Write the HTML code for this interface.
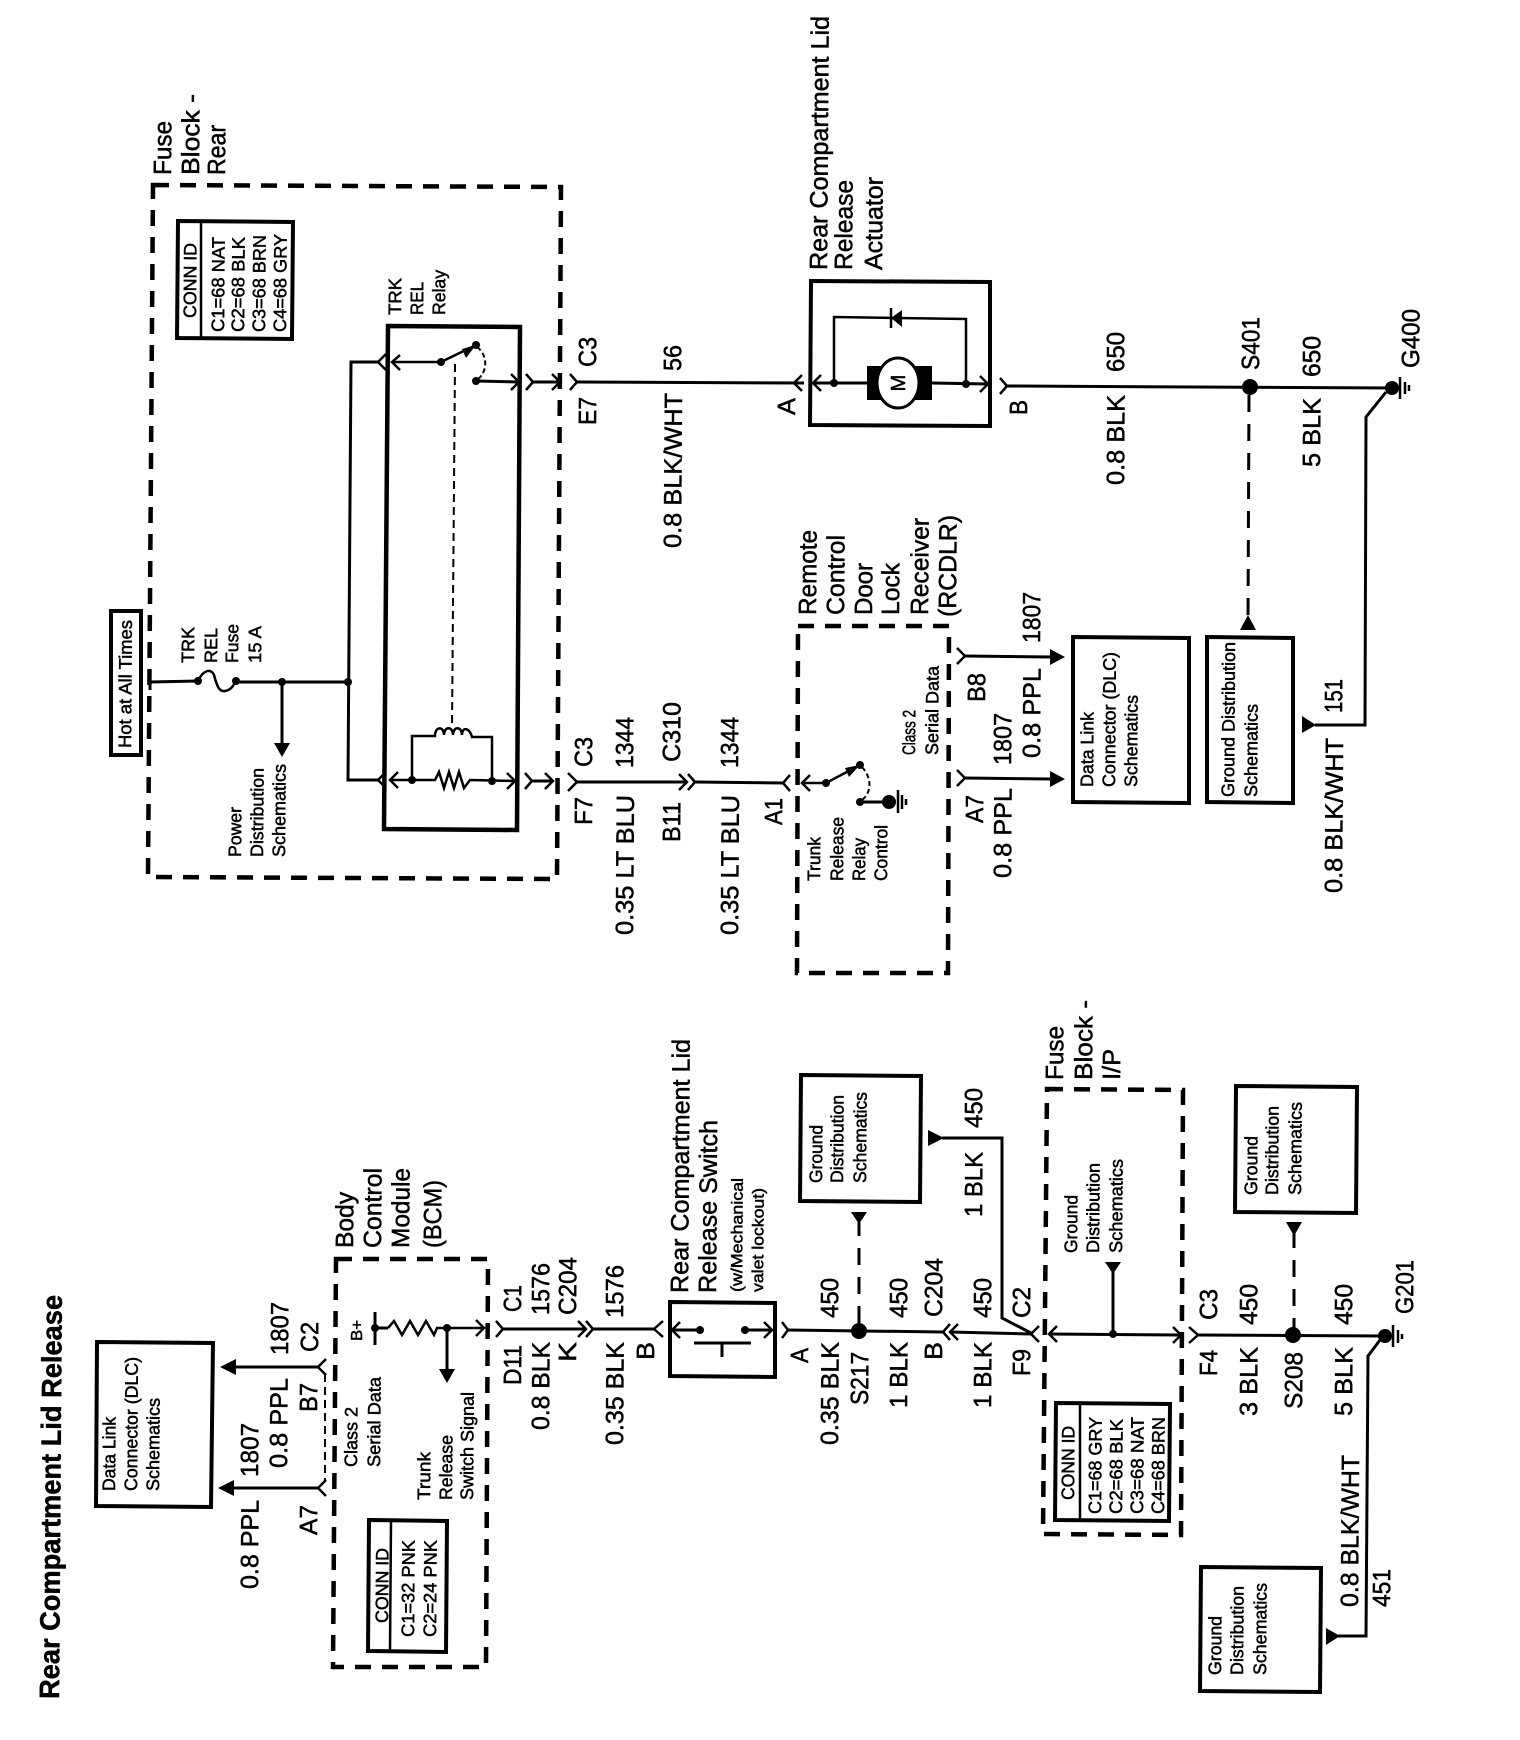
<!DOCTYPE html>
<html><head><meta charset="utf-8"><title>Rear Compartment Lid Release</title>
<style>
html,body{margin:0;padding:0;background:#fff}
svg{display:block}
text{font-family:"Liberation Sans",sans-serif;fill:#000;stroke:#000;stroke-width:.5}
.a text{font-size:25px}
.b text{font-size:18px}
.c text{font-size:16px}
.w{fill:none;stroke:#000;stroke-width:3}
.t{fill:none;stroke:#000;stroke-width:2.5}
.box{fill:none;stroke:#000;stroke-width:4}
.dash{fill:none;stroke:#000;stroke-width:4.5;stroke-dasharray:16 11}
.ld{fill:none;stroke:#000;stroke-width:3;stroke-dasharray:17 12}
.td{fill:none;stroke:#000;stroke-width:2;stroke-dasharray:8 5}
</style></head><body>
<svg xmlns="http://www.w3.org/2000/svg" width="1520" height="1740" viewBox="0 0 1520 1740">
<rect width="1520" height="1740" fill="#fff"/>

<!-- dashed enclosures -->
<path class="dash" d="M153 185L561 187L557 879L148 877Z"/>
<path class="dash" d="M798 626L949 626L948 973L797 973Z"/>
<path class="dash" d="M336 1259L488 1259L486 1667L333 1667Z"/>
<path class="dash" d="M1047 1089L1183 1090L1181 1535L1043 1534Z"/>

<!-- solid boxes -->
<rect class="box" x="111" y="611" width="30" height="144"/>
<path class="box" d="M178 221L293 222L292 339L177 338Z"/><path class="t" d="M201 222L201 338"/>
<path class="box" d="M388 326L520 327L517 830L384 829Z" style="stroke-width:4.5"/>
<path class="box" d="M811 281L990 282L990 426L810 425Z"/>
<path class="box" d="M1073 637L1189 638L1189 803L1073 802Z"/>
<path class="box" d="M1207 637L1293 638L1293 803L1207 802Z"/>
<path class="box" d="M97 1342L213 1343L211 1507L96 1506Z"/>
<path class="box" d="M369 1520L447 1521L446 1652L368 1651Z"/><path class="t" d="M391 1521L390 1651"/>
<path class="box" d="M670 1302L775 1303L775 1377L670 1376Z"/>
<path class="box" d="M801 1075L921 1076L920 1202L800 1201Z"/>
<path class="box" d="M1056 1403L1170 1404L1169 1521L1055 1520Z"/><path class="t" d="M1080 1404L1080 1520"/>
<path class="box" d="M1236 1086L1357 1087L1356 1213L1235 1212Z"/>
<path class="box" d="M1201 1567L1321 1568L1320 1692L1200 1691Z"/>

<!-- top relay circuit -->
<path class="w" d="M150 675L150 690M150 682L198 681"/>
<path class="t" d="M198 681C203 670 211 668 214 675C217 686 219 692 225 691C231 690 233 686 236 681"/>
<path class="w" d="M236 682L348 682"/>
<path class="w" d="M282 682L282 745"/>
<path d="M274 743L290 743L282 757Z"/>
<path class="w" d="M378 362L351 362L348 780L378 780"/>
<circle cx="348" cy="682" r="4"/><circle cx="282" cy="682" r="4"/><circle cx="198" cy="681" r="4"/><circle cx="236" cy="681" r="4"/>
<polyline class="t" points="386,354 378,362 386,370"/>
<polyline class="t" points="386,772 378,780 386,788"/>
<!-- relay internals -->
<path class="t" d="M392 362L441 362L476 345"/>
<polyline class="t" points="400,355 392,362 400,370"/>
<path d="M476 345L462 349L466 358Z"/>
<circle cx="441" cy="362" r="4"/><circle cx="476" cy="345" r="4"/><circle cx="476" cy="381" r="4"/>
<path class="td" d="M477 347C488 355 488 372 477 380" style="stroke-dasharray:5 3"/>
<path class="w" d="M476 381L519 382"/>
<polyline class="t" points="511,374 519,382 511,390"/>
<polyline class="t" points="526,374 533,382 526,390"/>
<path class="w" d="M533 382L560 382"/>
<polyline class="t" points="552,374 560,382 552,390"/>
<polyline class="t" points="570,374 577,382 570,390"/>
<path class="w" d="M577 382L804 383"/>
<polyline class="t" points="802,375 794,383 802,391"/>
<path class="td" d="M455 364L452 728"/>
<path class="t" d="M390 780L435 780L439 772L444 788L449 772L454 788L459 772L464 788L470 780L515 781"/>
<polyline class="t" points="398,772 390,780 398,788"/>
<polyline class="t" points="507,773 515,781 507,789"/>
<circle cx="412" cy="780" r="4"/><circle cx="492" cy="781" r="4"/>
<path class="t" d="M412 780L412 736L435 736C435 726 444 726 444 735C444 726 453 726 453 735C453 726 462 726 462 735C462 726 470 728 472 737L492 737L492 781"/>
<polyline class="t" points="525,773 532,781 525,789"/>
<path class="w" d="M532 781L553 781"/>
<polyline class="t" points="545,773 553,781 545,789"/>
<polyline class="t" points="568,773 577,782 568,791"/>
<path class="w" d="M577 782L687 782"/>
<polyline class="t" points="679,774 687,782 679,790"/>
<polyline class="t" points="688,774 695,782 688,790"/>
<path class="w" d="M695 782L783 783"/>
<polyline class="t" points="790,775 783,783 790,791"/>
<!-- RCDLR -->
<path class="t" d="M802 783L826 783L860 765"/>
<polyline class="t" points="810,775 802,783 810,791"/>
<path d="M860 765L845 768L849 777Z"/>
<circle cx="826" cy="783" r="4"/><circle cx="860" cy="765" r="4"/><circle cx="860" cy="802" r="4"/>
<path class="td" d="M862 767C872 778 872 792 862 800" style="stroke-dasharray:5 3"/>
<path class="w" d="M860 802L889 802"/><circle cx="889" cy="802" r="7"/>
<path class="t" d="M898 790L898 813M902 795L902 809M906 799L906 805"/>
<polyline class="t" points="957,648 965,656 957,664"/>
<path class="w" d="M965 656L1052 657"/><path d="M1050 649L1065 657L1050 665Z"/>
<polyline class="t" points="957,770 965,778 957,786"/>
<path class="w" d="M965 778L1052 779"/><path d="M1050 771L1065 779L1050 787Z"/>
<!-- actuator -->
<polyline class="t" points="821,375 813,383 821,391"/>
<path class="w" d="M813 383L868 383M932 383L988 384"/>
<polyline class="t" points="980,376 988,384 980,392"/>
<rect x="867" y="366" width="65" height="34"/>
<ellipse cx="898" cy="383" rx="21" ry="25" fill="#fff" stroke="#000" stroke-width="3"/>
<circle cx="834" cy="383" r="4"/><circle cx="966" cy="384" r="4"/>
<path class="t" d="M834 383L834 317L966 319L966 384"/>
<path class="t" d="M891 308L891 328"/><path d="M891 318L902 310L902 327Z"/>
<polyline class="t" points="1000,378 1007,386 1000,394"/>
<path class="w" d="M1007 386L1392 388"/>
<circle cx="1250" cy="387" r="8"/><circle cx="1392" cy="388" r="7"/>
<path class="t" d="M1400 377L1400 399M1405 382L1405 394M1409 385L1409 391"/>
<path class="ld" d="M1249 395L1248 618"/>
<path d="M1240 630L1256 630L1248 615Z"/>
<path d="M1302 716L1302 733L1316 725Z"/>
<path class="w" d="M1315 725L1365 725L1366 417L1386 392"/>

<!-- bottom left -->
<path d="M236 1359L236 1375L220 1367Z"/><path class="w" d="M235 1367L318 1367"/>
<polyline class="t" points="326,1359 318,1367 326,1375"/>
<path d="M234 1480L234 1496L218 1488Z"/><path class="w" d="M233 1488L318 1488"/>
<polyline class="t" points="326,1480 318,1488 326,1496"/>
<path class="td" d="M325 1374L325 1482"/>
<path class="w" d="M375 1312L375 1345M375 1328L388 1328"/>
<circle cx="375" cy="1328" r="4"/>
<path class="t" d="M388 1328L394 1321L402 1335L410 1321L418 1335L426 1321L434 1335L437 1328L484 1328"/>
<circle cx="447" cy="1328" r="4"/>
<polyline class="t" points="476,1320 484,1328 476,1336"/>
<path class="w" d="M447 1328L447 1372"/><path d="M439 1369L455 1369L447 1383Z"/>
<polyline class="t" points="496,1321 503,1329 496,1337"/>
<path class="w" d="M503 1329L586 1329"/>
<polyline class="t" points="578,1321 586,1329 578,1337"/>
<polyline class="t" points="586,1321 593,1329 586,1337"/>
<path class="w" d="M593 1329L654 1329"/>
<polyline class="t" points="663,1321 654,1329 663,1337"/>
<path class="w" d="M672 1330L700 1330M745 1330L772 1330"/>
<polyline class="t" points="680,1322 672,1330 680,1338"/>
<polyline class="t" points="764,1322 772,1330 764,1338"/>
<circle cx="700" cy="1330" r="4"/><circle cx="745" cy="1330" r="4"/>
<path class="w" d="M694 1343L751 1343M722 1343L722 1357"/>
<polyline class="t" points="782,1322 788,1330 782,1338"/>
<path class="w" d="M788 1330L943 1332"/>
<circle cx="859" cy="1331" r="8"/>
<path class="ld" d="M859 1323L859 1222"/><path d="M851 1212L867 1212L859 1224Z"/>
<polyline class="t" points="950,1324 943,1332 950,1340"/>
<polyline class="t" points="958,1324 950,1332 958,1340"/>
<path class="w" d="M950 1332L1031 1334"/>
<path d="M928 1130L928 1146L944 1138Z"/>
<path class="w" d="M942 1138L1002 1138L1002 1318L1031 1333"/>
<polyline class="t" points="1039,1326 1031,1334 1039,1342"/>
<!-- fuse block I/P -->
<path class="w" d="M1049 1334L1181 1335"/>
<polyline class="t" points="1057,1326 1049,1334 1057,1342"/>
<polyline class="t" points="1173,1327 1181,1335 1173,1343"/>
<circle cx="1113" cy="1334" r="4"/>
<path class="w" d="M1113 1334L1113 1270"/><path d="M1105 1262L1121 1262L1113 1274Z"/>
<polyline class="t" points="1189,1327 1198,1335 1189,1343"/>
<path class="w" d="M1198 1335L1385 1336"/>
<circle cx="1293" cy="1335" r="8"/><circle cx="1385" cy="1336" r="7"/>
<path class="ld" d="M1294 1335L1294 1234"/><path d="M1286 1222L1302 1222L1294 1236Z"/>
<path class="t" d="M1393 1325L1393 1347M1398 1330L1398 1343M1402 1334L1402 1339"/>
<path class="w" d="M1380 1340L1368 1356L1366 1636L1338 1636"/>
<path d="M1326 1628L1326 1645L1340 1636Z"/>

<!-- large labels -->
<g class="a">
<text transform="translate(171,175) rotate(-89.6)" textLength="54" lengthAdjust="spacingAndGlyphs">Fuse</text>
<text transform="translate(199,175) rotate(-89.6)" textLength="81" lengthAdjust="spacingAndGlyphs">Block -</text>
<text transform="translate(225,175) rotate(-89.6)" textLength="50" lengthAdjust="spacingAndGlyphs">Rear</text>
<text transform="translate(596,367) rotate(-89.6)" textLength="30" lengthAdjust="spacingAndGlyphs">C3</text>
<text transform="translate(596,425) rotate(-89.6)" textLength="28" lengthAdjust="spacingAndGlyphs">E7</text>
<text transform="translate(681,371) rotate(-89.6)" textLength="26" lengthAdjust="spacingAndGlyphs">56</text>
<text transform="translate(681,548) rotate(-89.6)" textLength="155" lengthAdjust="spacingAndGlyphs">0.8 BLK/WHT</text>
<text transform="translate(827,270) rotate(-89.6)" textLength="254" lengthAdjust="spacingAndGlyphs">Rear Compartment Lid</text>
<text transform="translate(852,270) rotate(-89.6)" textLength="90" lengthAdjust="spacingAndGlyphs">Release</text>
<text transform="translate(882,270) rotate(-89.6)" textLength="93" lengthAdjust="spacingAndGlyphs">Actuator</text>
<text transform="translate(795,415) rotate(-89.6)" textLength="17" lengthAdjust="spacingAndGlyphs">A</text>
<text transform="translate(1027,415) rotate(-89.6)" textLength="15" lengthAdjust="spacingAndGlyphs">B</text>
<text transform="translate(1124,372) rotate(-89.6)" textLength="40" lengthAdjust="spacingAndGlyphs">650</text>
<text transform="translate(1124,485) rotate(-89.6)" textLength="90" lengthAdjust="spacingAndGlyphs">0.8 BLK</text>
<text transform="translate(1259,370) rotate(-89.6)" textLength="53" lengthAdjust="spacingAndGlyphs">S401</text>
<text transform="translate(1320,377) rotate(-89.6)" textLength="41" lengthAdjust="spacingAndGlyphs">650</text>
<text transform="translate(1320,467) rotate(-89.6)" textLength="69" lengthAdjust="spacingAndGlyphs">5 BLK</text>
<text transform="translate(1419,368) rotate(-89.6)" textLength="59" lengthAdjust="spacingAndGlyphs">G400</text>
<text transform="translate(592,825) rotate(-89.6)" textLength="28" lengthAdjust="spacingAndGlyphs">F7</text>
<text transform="translate(592,767) rotate(-89.6)" textLength="30" lengthAdjust="spacingAndGlyphs">C3</text>
<text transform="translate(633,768) rotate(-89.6)" textLength="51" lengthAdjust="spacingAndGlyphs">1344</text>
<text transform="translate(633,935) rotate(-89.6)" textLength="140" lengthAdjust="spacingAndGlyphs">0.35 LT BLU</text>
<text transform="translate(680,762) rotate(-89.6)" textLength="60" lengthAdjust="spacingAndGlyphs">C310</text>
<text transform="translate(680,842) rotate(-89.6)" textLength="40" lengthAdjust="spacingAndGlyphs">B11</text>
<text transform="translate(738,768) rotate(-89.6)" textLength="51" lengthAdjust="spacingAndGlyphs">1344</text>
<text transform="translate(738,935) rotate(-89.6)" textLength="140" lengthAdjust="spacingAndGlyphs">0.35 LT BLU</text>
<text transform="translate(782,825) rotate(-89.6)" textLength="27" lengthAdjust="spacingAndGlyphs">A1</text>
<text transform="translate(816,615) rotate(-89.6)" textLength="85" lengthAdjust="spacingAndGlyphs">Remote</text>
<text transform="translate(844,615) rotate(-89.6)" textLength="80" lengthAdjust="spacingAndGlyphs">Control</text>
<text transform="translate(872,615) rotate(-89.6)" textLength="52" lengthAdjust="spacingAndGlyphs">Door</text>
<text transform="translate(899,615) rotate(-89.6)" textLength="52" lengthAdjust="spacingAndGlyphs">Lock</text>
<text transform="translate(928,615) rotate(-89.6)" textLength="97" lengthAdjust="spacingAndGlyphs">Receiver</text>
<text transform="translate(956,617) rotate(-89.6)" textLength="102" lengthAdjust="spacingAndGlyphs">(RCDLR)</text>
<text transform="translate(985,702) rotate(-89.6)" textLength="29" lengthAdjust="spacingAndGlyphs">B8</text>
<text transform="translate(1040,643) rotate(-89.6)" textLength="51" lengthAdjust="spacingAndGlyphs">1807</text>
<text transform="translate(1040,758) rotate(-89.6)" textLength="90" lengthAdjust="spacingAndGlyphs">0.8 PPL</text>
<text transform="translate(1011,765) rotate(-89.6)" textLength="52" lengthAdjust="spacingAndGlyphs">1807</text>
<text transform="translate(983,823) rotate(-89.6)" textLength="28" lengthAdjust="spacingAndGlyphs">A7</text>
<text transform="translate(1011,878) rotate(-89.6)" textLength="90" lengthAdjust="spacingAndGlyphs">0.8 PPL</text>
<text transform="translate(1342,713) rotate(-89.6)" textLength="34" lengthAdjust="spacingAndGlyphs">151</text>
<text transform="translate(1342,893) rotate(-89.6)" textLength="155" lengthAdjust="spacingAndGlyphs">0.8 BLK/WHT</text>

<text transform="translate(288,1355) rotate(-89.6)" textLength="53" lengthAdjust="spacingAndGlyphs">1807</text>
<text transform="translate(318,1352) rotate(-89.6)" textLength="30" lengthAdjust="spacingAndGlyphs">C2</text>
<text transform="translate(287,1468) rotate(-89.6)" textLength="90" lengthAdjust="spacingAndGlyphs">0.8 PPL</text>
<text transform="translate(317,1412) rotate(-89.6)" textLength="29" lengthAdjust="spacingAndGlyphs">B7</text>
<text transform="translate(258,1477) rotate(-89.6)" textLength="54" lengthAdjust="spacingAndGlyphs">1807</text>
<text transform="translate(317,1535) rotate(-89.6)" textLength="30" lengthAdjust="spacingAndGlyphs">A7</text>
<text transform="translate(258,1589) rotate(-89.6)" textLength="89" lengthAdjust="spacingAndGlyphs">0.8 PPL</text>
<text transform="translate(353,1248) rotate(-89.6)" textLength="56" lengthAdjust="spacingAndGlyphs">Body</text>
<text transform="translate(381,1248) rotate(-89.6)" textLength="80" lengthAdjust="spacingAndGlyphs">Control</text>
<text transform="translate(409,1248) rotate(-89.6)" textLength="80" lengthAdjust="spacingAndGlyphs">Module</text>
<text transform="translate(441,1248) rotate(-89.6)" textLength="68" lengthAdjust="spacingAndGlyphs">(BCM)</text>
<text transform="translate(521,1385) rotate(-89.6)" textLength="40" lengthAdjust="spacingAndGlyphs">D11</text>
<text transform="translate(521,1312) rotate(-89.6)" textLength="27" lengthAdjust="spacingAndGlyphs">C1</text>
<text transform="translate(549,1315) rotate(-89.6)" textLength="52" lengthAdjust="spacingAndGlyphs">1576</text>
<text transform="translate(549,1430) rotate(-89.6)" textLength="88" lengthAdjust="spacingAndGlyphs">0.8 BLK</text>
<text transform="translate(576,1315) rotate(-89.6)" textLength="58" lengthAdjust="spacingAndGlyphs">C204</text>
<text transform="translate(576,1362) rotate(-89.6)" textLength="20" lengthAdjust="spacingAndGlyphs">K</text>
<text transform="translate(623,1318) rotate(-89.6)" textLength="53" lengthAdjust="spacingAndGlyphs">1576</text>
<text transform="translate(623,1445) rotate(-89.6)" textLength="103" lengthAdjust="spacingAndGlyphs">0.35 BLK</text>
<text transform="translate(654,1360) rotate(-89.6)" textLength="18" lengthAdjust="spacingAndGlyphs">B</text>
<text transform="translate(688,1293) rotate(-89.6)" textLength="254" lengthAdjust="spacingAndGlyphs">Rear Compartment Lid</text>
<text transform="translate(716,1293) rotate(-89.6)" textLength="173" lengthAdjust="spacingAndGlyphs">Release Switch</text>
<text transform="translate(838,1318) rotate(-89.6)" textLength="40" lengthAdjust="spacingAndGlyphs">450</text>
<text transform="translate(838,1445) rotate(-89.6)" textLength="103" lengthAdjust="spacingAndGlyphs">0.35 BLK</text>
<text transform="translate(808,1363) rotate(-89.6)" textLength="15" lengthAdjust="spacingAndGlyphs">A</text>
<text transform="translate(868,1405) rotate(-89.6)" textLength="53" lengthAdjust="spacingAndGlyphs">S217</text>
<text transform="translate(907,1318) rotate(-89.6)" textLength="40" lengthAdjust="spacingAndGlyphs">450</text>
<text transform="translate(907,1408) rotate(-89.6)" textLength="66" lengthAdjust="spacingAndGlyphs">1 BLK</text>
<text transform="translate(942,1317) rotate(-89.6)" textLength="59" lengthAdjust="spacingAndGlyphs">C204</text>
<text transform="translate(942,1360) rotate(-89.6)" textLength="18" lengthAdjust="spacingAndGlyphs">B</text>
<text transform="translate(991,1318) rotate(-89.6)" textLength="40" lengthAdjust="spacingAndGlyphs">450</text>
<text transform="translate(991,1408) rotate(-89.6)" textLength="66" lengthAdjust="spacingAndGlyphs">1 BLK</text>
<text transform="translate(982,1128) rotate(-89.6)" textLength="40" lengthAdjust="spacingAndGlyphs">450</text>
<text transform="translate(982,1217) rotate(-89.6)" textLength="65" lengthAdjust="spacingAndGlyphs">1 BLK</text>
<text transform="translate(1030,1318) rotate(-89.6)" textLength="31" lengthAdjust="spacingAndGlyphs">C2</text>
<text transform="translate(1030,1376) rotate(-89.6)" textLength="27" lengthAdjust="spacingAndGlyphs">F9</text>
<text transform="translate(1063,1080) rotate(-89.6)" textLength="54" lengthAdjust="spacingAndGlyphs">Fuse</text>
<text transform="translate(1092,1080) rotate(-89.6)" textLength="80" lengthAdjust="spacingAndGlyphs">Block -</text>
<text transform="translate(1120,1080) rotate(-89.6)" textLength="31" lengthAdjust="spacingAndGlyphs">I/P</text>
<text transform="translate(1217,1320) rotate(-89.6)" textLength="31" lengthAdjust="spacingAndGlyphs">C3</text>
<text transform="translate(1217,1376) rotate(-89.6)" textLength="26" lengthAdjust="spacingAndGlyphs">F4</text>
<text transform="translate(1257,1325) rotate(-89.6)" textLength="41" lengthAdjust="spacingAndGlyphs">450</text>
<text transform="translate(1257,1416) rotate(-89.6)" textLength="69" lengthAdjust="spacingAndGlyphs">3 BLK</text>
<text transform="translate(1302,1409) rotate(-89.6)" textLength="57" lengthAdjust="spacingAndGlyphs">S208</text>
<text transform="translate(1352,1325) rotate(-89.6)" textLength="41" lengthAdjust="spacingAndGlyphs">450</text>
<text transform="translate(1352,1416) rotate(-89.6)" textLength="69" lengthAdjust="spacingAndGlyphs">5 BLK</text>
<text transform="translate(1413,1314) rotate(-89.6)" textLength="54" lengthAdjust="spacingAndGlyphs">G201</text>
<text transform="translate(1358,1607) rotate(-89.6)" textLength="152" lengthAdjust="spacingAndGlyphs">0.8 BLK/WHT</text>
<text transform="translate(1390,1607) rotate(-89.6)" textLength="38" lengthAdjust="spacingAndGlyphs">451</text>
</g>

<!-- small labels -->
<g class="b">
<text transform="translate(131,748) rotate(-89.6)" textLength="128" lengthAdjust="spacingAndGlyphs">Hot at All Times</text>
<text transform="translate(196,318) rotate(-89.6)" textLength="75" lengthAdjust="spacingAndGlyphs">CONN ID</text>
<text transform="translate(224,332) rotate(-89.6)" textLength="95" lengthAdjust="spacingAndGlyphs">C1=68 NAT</text>
<text transform="translate(244,332) rotate(-89.6)" textLength="95" lengthAdjust="spacingAndGlyphs">C2=68 BLK</text>
<text transform="translate(265,332) rotate(-89.6)" textLength="97" lengthAdjust="spacingAndGlyphs">C3=68 BRN</text>
<text transform="translate(286,332) rotate(-89.6)" textLength="98" lengthAdjust="spacingAndGlyphs">C4=68 GRY</text>
<text transform="translate(401,315) rotate(-89.6)" textLength="37" lengthAdjust="spacingAndGlyphs">TRK</text>
<text transform="translate(423,315) rotate(-89.6)" textLength="33" lengthAdjust="spacingAndGlyphs">REL</text>
<text transform="translate(445,315) rotate(-89.6)" textLength="45" lengthAdjust="spacingAndGlyphs">Relay</text>
<text transform="translate(194,663) rotate(-89.6)" textLength="36" lengthAdjust="spacingAndGlyphs">TRK</text>
<text transform="translate(217,663) rotate(-89.6)" textLength="35" lengthAdjust="spacingAndGlyphs">REL</text>
<text transform="translate(238,663) rotate(-89.6)" textLength="39" lengthAdjust="spacingAndGlyphs">Fuse</text>
<text transform="translate(261,663) rotate(-89.6)" textLength="37" lengthAdjust="spacingAndGlyphs">15 A</text>
<text transform="translate(241,857) rotate(-89.6)" textLength="50" lengthAdjust="spacingAndGlyphs">Power</text>
<text transform="translate(263,857) rotate(-89.6)" textLength="89" lengthAdjust="spacingAndGlyphs">Distribution</text>
<text transform="translate(285,857) rotate(-89.6)" textLength="93" lengthAdjust="spacingAndGlyphs">Schematics</text>
<text transform="translate(820,881) rotate(-89.6)" textLength="44" lengthAdjust="spacingAndGlyphs">Trunk</text>
<text transform="translate(843,881) rotate(-89.6)" textLength="64" lengthAdjust="spacingAndGlyphs">Release</text>
<text transform="translate(865,881) rotate(-89.6)" textLength="43" lengthAdjust="spacingAndGlyphs">Relay</text>
<text transform="translate(887,881) rotate(-89.6)" textLength="56" lengthAdjust="spacingAndGlyphs">Control</text>
<text transform="translate(915,755) rotate(-89.6)" textLength="45" lengthAdjust="spacingAndGlyphs">Class 2</text>
<text transform="translate(938,755) rotate(-89.6)" textLength="89" lengthAdjust="spacingAndGlyphs">Serial Data</text>
<text transform="translate(1093,787) rotate(-89.6)" textLength="75" lengthAdjust="spacingAndGlyphs">Data Link</text>
<text transform="translate(1115,787) rotate(-89.6)" textLength="135" lengthAdjust="spacingAndGlyphs">Connector (DLC)</text>
<text transform="translate(1137,787) rotate(-89.6)" textLength="92" lengthAdjust="spacingAndGlyphs">Schematics</text>
<text transform="translate(1234,797) rotate(-89.6)" textLength="155" lengthAdjust="spacingAndGlyphs">Ground Distribution</text>
<text transform="translate(1257,797) rotate(-89.6)" textLength="93" lengthAdjust="spacingAndGlyphs">Schematics</text>

<text transform="translate(115,1491) rotate(-89.6)" textLength="74" lengthAdjust="spacingAndGlyphs">Data Link</text>
<text transform="translate(137,1491) rotate(-89.6)" textLength="134" lengthAdjust="spacingAndGlyphs">Connector (DLC)</text>
<text transform="translate(159,1491) rotate(-89.6)" textLength="93" lengthAdjust="spacingAndGlyphs">Schematics</text>
<text transform="translate(357,1467) rotate(-89.6)" textLength="60" lengthAdjust="spacingAndGlyphs">Class 2</text>
<text transform="translate(380,1467) rotate(-89.6)" textLength="90" lengthAdjust="spacingAndGlyphs">Serial Data</text>
<text transform="translate(430,1500) rotate(-89.6)" textLength="48" lengthAdjust="spacingAndGlyphs">Trunk</text>
<text transform="translate(452,1500) rotate(-89.6)" textLength="65" lengthAdjust="spacingAndGlyphs">Release</text>
<text transform="translate(473,1500) rotate(-89.6)" textLength="108" lengthAdjust="spacingAndGlyphs">Switch Signal</text>
<text transform="translate(388,1623) rotate(-89.6)" textLength="75" lengthAdjust="spacingAndGlyphs">CONN ID</text>
<text transform="translate(414,1637) rotate(-89.6)" textLength="97" lengthAdjust="spacingAndGlyphs">C1=32 PNK</text>
<text transform="translate(436,1637) rotate(-89.6)" textLength="97" lengthAdjust="spacingAndGlyphs">C2=24 PNK</text>
<text transform="translate(822,1183) rotate(-89.6)" textLength="58" lengthAdjust="spacingAndGlyphs">Ground</text>
<text transform="translate(843,1183) rotate(-89.6)" textLength="88" lengthAdjust="spacingAndGlyphs">Distribution</text>
<text transform="translate(866,1183) rotate(-89.6)" textLength="91" lengthAdjust="spacingAndGlyphs">Schematics</text>
<text transform="translate(1077,1253) rotate(-89.6)" textLength="58" lengthAdjust="spacingAndGlyphs">Ground</text>
<text transform="translate(1099,1253) rotate(-89.6)" textLength="90" lengthAdjust="spacingAndGlyphs">Distribution</text>
<text transform="translate(1122,1253) rotate(-89.6)" textLength="94" lengthAdjust="spacingAndGlyphs">Schematics</text>
<text transform="translate(1074,1500) rotate(-89.6)" textLength="74" lengthAdjust="spacingAndGlyphs">CONN ID</text>
<text transform="translate(1101,1514) rotate(-89.6)" textLength="97" lengthAdjust="spacingAndGlyphs">C1=68 GRY</text>
<text transform="translate(1122,1514) rotate(-89.6)" textLength="95" lengthAdjust="spacingAndGlyphs">C2=68 BLK</text>
<text transform="translate(1143,1514) rotate(-89.6)" textLength="97" lengthAdjust="spacingAndGlyphs">C3=68 NAT</text>
<text transform="translate(1164,1514) rotate(-89.6)" textLength="97" lengthAdjust="spacingAndGlyphs">C4=68 BRN</text>
<text transform="translate(1257,1195) rotate(-89.6)" textLength="59" lengthAdjust="spacingAndGlyphs">Ground</text>
<text transform="translate(1278,1195) rotate(-89.6)" textLength="89" lengthAdjust="spacingAndGlyphs">Distribution</text>
<text transform="translate(1301,1195) rotate(-89.6)" textLength="93" lengthAdjust="spacingAndGlyphs">Schematics</text>
<text transform="translate(1221,1675) rotate(-89.6)" textLength="59" lengthAdjust="spacingAndGlyphs">Ground</text>
<text transform="translate(1243,1675) rotate(-89.6)" textLength="89" lengthAdjust="spacingAndGlyphs">Distribution</text>
<text transform="translate(1266,1675) rotate(-89.6)" textLength="92" lengthAdjust="spacingAndGlyphs">Schematics</text>
</g>

<g class="c">
<text transform="translate(362,1341) rotate(-89.6)" textLength="21" lengthAdjust="spacingAndGlyphs">B+</text>
<text transform="translate(742,1292) rotate(-89.6)" textLength="114" lengthAdjust="spacingAndGlyphs">(w/Mechanical</text>
<text transform="translate(763,1292) rotate(-89.6)" textLength="104" lengthAdjust="spacingAndGlyphs">valet lockout)</text>
</g>

<text transform="translate(59,1699) rotate(-89.6)" font-size="28" font-weight="bold" textLength="404" lengthAdjust="spacingAndGlyphs">Rear Compartment Lid Release</text>
<text transform="translate(905,383) rotate(-90)" font-size="20" text-anchor="middle">M</text>
</svg>
</body></html>
